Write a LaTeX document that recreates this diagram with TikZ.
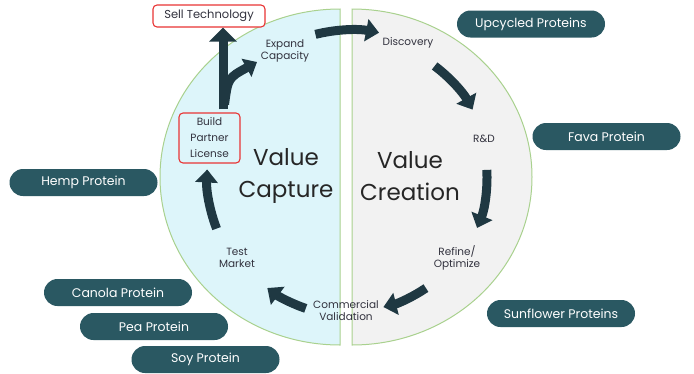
\documentclass[tikz,border=0pt]{standalone}
\usepackage{fontspec}
\setmainfont{Poppins}
\usetikzlibrary{arrows.meta, calc}
\definecolor{capfill}{RGB}{221, 245, 250}
\definecolor{creafill}{RGB}{242, 242, 242}
\definecolor{rimgreen}{RGB}{169, 209, 142}
\definecolor{arrowdark}{RGB}{31, 56, 66}
\definecolor{pillteal}{RGB}{42, 88, 98}
\definecolor{boxred}{RGB}{232, 52, 52}
\definecolor{labelgray}{RGB}{50, 50, 62}

\begin{document}
\begin{tikzpicture}[x=1pt, y=-1pt,
  pill/.style={fill=pillteal, rounded corners=13.5pt, minimum width=148pt, minimum height=27pt,
               text=white, font=\fontsize{12.5}{14}\selectfont, inner sep=0pt},
  stage/.style={align=center, text=labelgray, font=\fontsize{10.5}{12}\selectfont, inner sep=1pt},
  redbox/.style={draw=boxred, line width=1.1pt, rounded corners=4pt, align=center, text=labelgray},
  big/.style={align=center, text=black!85, font=\fontsize{23}{32}\selectfont},
  cyc/.style={line width=9pt, draw=arrowdark, -{Triangle[width=22pt, length=13pt]}},
]
\useasboundingbox (0,0) rectangle (694,373);

% two halves of the disk
\path[draw=rimgreen, line width=1pt, fill=capfill] (340,345)
  arc[start angle=90, end angle=270, x radius=180, y radius=168] -- cycle;
\path[draw=rimgreen, line width=1pt, fill=creafill] (352,9)
  arc[start angle=-90, end angle=90, x radius=180, y radius=168] -- cycle;

\node[big] (capture) at (286,176) {Value\\Capture};
\node[big] (creation) at (410,176) {Value\\Creation};

% stages of the cycle
\node[stage] (disc) at (408,43) {Discovery};
\node[stage] (rnd) at (484,139) {R\&D};
\node[stage] (refine) at (457,258) {Refine/\\Optimize};
\node[stage] (commval) at (346,311) {Commercial\\Validation};
\node[stage] (testmkt) at (237,258) {Test\\Market};
\node[stage] (expand) at (285,51) {Expand\\Capacity};
\node[redbox, font=\fontsize{10.5}{16}\selectfont, minimum width=61pt, minimum height=50pt,
      inner sep=0pt] (build) at (209.5,138) {Build\\Partner\\License};
\node[redbox, fill=white, font=\fontsize{11.5}{13}\selectfont, minimum width=112pt,
      minimum height=22pt, inner sep=0pt] (sell) at (209,16) {Sell Technology};

% cycle arrows
\coordinate (hub) at (351,177);
\draw[cyc] ([shift={(-104:147)}]hub) arc[start angle=-104, end angle=-79, radius=147];
\draw[cyc] ([shift={(-53:139)}]hub) arc[start angle=-53, end angle=-29, radius=139];
\draw[cyc] ([shift={(-3:136)}]hub) arc[start angle=-3, end angle=22, radius=136];
\draw[cyc] ([shift={(56:134)}]hub) arc[start angle=56, end angle=76, radius=134];
\draw[cyc] ([shift={(109:139)}]hub) arc[start angle=109, end angle=127, radius=139];
\draw[cyc] ([shift={(159:144)}]hub) arc[start angle=159, end angle=183, radius=144];

% fork out of Build
\coordinate (grow) at (257,62);
\draw[cyc, -{Triangle[width=27pt, length=14pt]}] ([xshift=13.5pt, yshift=3pt]build.north)
  -- ([xshift=14pt]sell.south);
\draw[cyc, -{Triangle[width=20pt, length=12pt]}] ([xshift=15pt, yshift=8pt]build.north)
  .. controls (228,78) .. (grow);

% protein sources
\node[pill] (upcyc) at (531,24) {Upcycled Proteins};
\node[pill] (fava) at (606.5,136.5) {Fava Protein};
\node[pill] (hemp) at (83.5,182.5) {Hemp Protein};
\node[pill] (canola) at (118,292.5) {Canola Protein};
\node[pill] (pea) at (154,326.5) {Pea Protein};
\node[pill] (soy) at (205.5,359.5) {Soy Protein};
\node[pill] (sunfl) at (561,313.5) {Sunflower Proteins};
\end{tikzpicture}
\end{document}
